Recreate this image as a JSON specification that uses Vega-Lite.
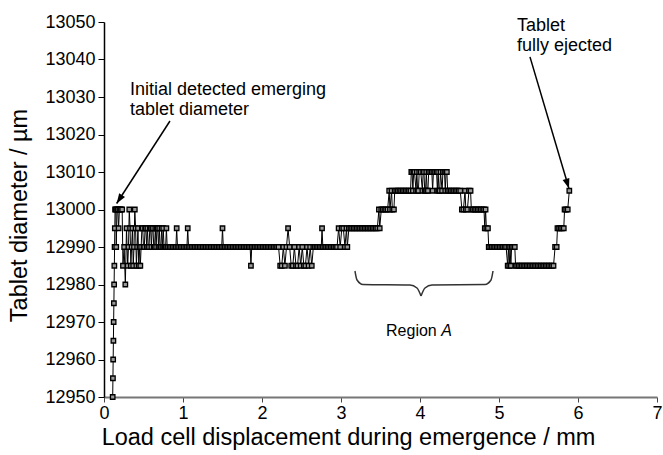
{
"$schema":"https://vega.github.io/schema/vega-lite/v6.json",
"width":553,"height":375,
"autosize":{"type":"none"},
"padding":{"left":104,"top":22,"right":6,"bottom":58},
"background":"white",
"config":{"view":{"stroke":null},"font":"Liberation Sans"},
"datasets":{
"series":[
{"mm":0.110,"um":12950},{"mm":0.113,"um":12955},{"mm":0.116,"um":12960},{"mm":0.119,"um":12965},{"mm":0.122,"um":12970},{"mm":0.125,"um":12975},{"mm":0.128,"um":12980},{"mm":0.131,"um":12985},{"mm":0.134,"um":12990},{"mm":0.137,"um":12995},{"mm":0.140,"um":13000},
{"mm":0.150,"um":13000},{"mm":0.155,"um":12990},{"mm":0.165,"um":13000},{"mm":0.175,"um":13000},{"mm":0.185,"um":12995},{"mm":0.195,"um":13000},{"mm":0.205,"um":13000},{"mm":0.215,"um":13000},{"mm":0.230,"um":13000},{"mm":0.240,"um":12985},{"mm":0.255,"um":12990},{"mm":0.270,"um":12980},{"mm":0.285,"um":12995},{"mm":0.300,"um":12985},{"mm":0.310,"um":12990},{"mm":0.320,"um":13000},{"mm":0.330,"um":12995},{"mm":0.340,"um":12985},{"mm":0.350,"um":12990},{"mm":0.360,"um":12995},{"mm":0.370,"um":12985},{"mm":0.380,"um":12990},{"mm":0.390,"um":13000},{"mm":0.400,"um":12995},{"mm":0.410,"um":12985},{"mm":0.420,"um":12990},{"mm":0.430,"um":12995},{"mm":0.440,"um":12985},{"mm":0.450,"um":12990},{"mm":0.460,"um":12985},{"mm":0.470,"um":12990},
{"mm":0.480,"um":12995},{"mm":0.490,"um":12995},{"mm":0.500,"um":12990},{"mm":0.510,"um":12990},{"mm":0.520,"um":12995},{"mm":0.530,"um":12995},{"mm":0.540,"um":12990},{"mm":0.550,"um":12995},{"mm":0.560,"um":12990},{"mm":0.570,"um":12990},{"mm":0.580,"um":12995},{"mm":0.590,"um":12995},{"mm":0.600,"um":12990},{"mm":0.610,"um":12995},{"mm":0.620,"um":12995},{"mm":0.630,"um":12990},{"mm":0.640,"um":12990},{"mm":0.650,"um":12995},{"mm":0.660,"um":12990},{"mm":0.670,"um":12995},{"mm":0.680,"um":12995},{"mm":0.690,"um":12990},{"mm":0.700,"um":12995},{"mm":0.710,"um":12990},{"mm":0.720,"um":12990},{"mm":0.730,"um":12995},{"mm":0.740,"um":12990},{"mm":0.750,"um":12995},{"mm":0.760,"um":12990},{"mm":0.770,"um":12990},{"mm":0.780,"um":12990},{"mm":0.790,"um":12995},{"mm":0.800,"um":12990},{"mm":0.810,"um":12990},
{"mm":0.83,"um":12990},{"mm":0.85,"um":12990},{"mm":0.87,"um":12990},{"mm":0.89,"um":12990},{"mm":0.91,"um":12990},{"mm":0.92,"um":12995},{"mm":0.93,"um":12990},{"mm":0.95,"um":12990},{"mm":0.97,"um":12990},{"mm":0.99,"um":12990},{"mm":1.01,"um":12990},{"mm":1.03,"um":12990},{"mm":1.05,"um":12990},{"mm":1.06,"um":12995},
{"mm":1.07,"um":12990},{"mm":1.09,"um":12990},{"mm":1.11,"um":12990},{"mm":1.13,"um":12990},{"mm":1.15,"um":12990},{"mm":1.17,"um":12990},{"mm":1.19,"um":12990},{"mm":1.21,"um":12990},{"mm":1.23,"um":12990},{"mm":1.25,"um":12990},{"mm":1.27,"um":12990},{"mm":1.29,"um":12990},{"mm":1.31,"um":12990},{"mm":1.33,"um":12990},{"mm":1.35,"um":12990},{"mm":1.37,"um":12990},{"mm":1.39,"um":12990},{"mm":1.41,"um":12990},{"mm":1.43,"um":12990},{"mm":1.45,"um":12990},{"mm":1.47,"um":12990},{"mm":1.49,"um":12990},{"mm":1.50,"um":12995},
{"mm":1.51,"um":12990},{"mm":1.53,"um":12990},{"mm":1.55,"um":12990},{"mm":1.57,"um":12990},{"mm":1.59,"um":12990},{"mm":1.61,"um":12990},{"mm":1.63,"um":12990},{"mm":1.65,"um":12990},{"mm":1.67,"um":12990},{"mm":1.69,"um":12990},{"mm":1.71,"um":12990},{"mm":1.73,"um":12990},{"mm":1.75,"um":12990},{"mm":1.77,"um":12990},{"mm":1.79,"um":12990},{"mm":1.81,"um":12990},{"mm":1.83,"um":12990},{"mm":1.85,"um":12990},{"mm":1.86,"um":12985},
{"mm":1.87,"um":12990},{"mm":1.89,"um":12990},{"mm":1.91,"um":12990},{"mm":1.93,"um":12990},{"mm":1.95,"um":12990},{"mm":1.97,"um":12990},{"mm":1.99,"um":12990},{"mm":2.01,"um":12990},{"mm":2.03,"um":12990},{"mm":2.05,"um":12990},{"mm":2.07,"um":12990},{"mm":2.09,"um":12990},{"mm":2.11,"um":12990},{"mm":2.13,"um":12990},{"mm":2.15,"um":12990},{"mm":2.17,"um":12990},{"mm":2.19,"um":12990},{"mm":2.21,"um":12990},
{"mm":2.23,"um":12985},{"mm":2.25,"um":12985},{"mm":2.27,"um":12990},{"mm":2.29,"um":12985},{"mm":2.31,"um":12990},{"mm":2.33,"um":12995},{"mm":2.35,"um":12990},{"mm":2.37,"um":12985},{"mm":2.39,"um":12985},{"mm":2.41,"um":12990},{"mm":2.43,"um":12985},{"mm":2.45,"um":12985},{"mm":2.47,"um":12990},{"mm":2.49,"um":12985},{"mm":2.51,"um":12990},{"mm":2.53,"um":12985},{"mm":2.55,"um":12985},{"mm":2.57,"um":12990},{"mm":2.59,"um":12985},{"mm":2.61,"um":12990},{"mm":2.63,"um":12985},{"mm":2.65,"um":12990},
{"mm":2.67,"um":12990},{"mm":2.69,"um":12990},{"mm":2.71,"um":12990},{"mm":2.73,"um":12990},{"mm":2.75,"um":12990},{"mm":2.76,"um":12995},{"mm":2.77,"um":12990},{"mm":2.79,"um":12990},{"mm":2.81,"um":12990},{"mm":2.83,"um":12990},{"mm":2.85,"um":12990},{"mm":2.87,"um":12990},{"mm":2.89,"um":12990},{"mm":2.91,"um":12990},{"mm":2.93,"um":12990},
{"mm":2.95,"um":12990},{"mm":2.97,"um":12995},{"mm":2.99,"um":12990},{"mm":3.01,"um":12995},{"mm":3.03,"um":12995},{"mm":3.05,"um":12990},{"mm":3.07,"um":12995},{"mm":3.08,"um":12990},{"mm":3.10,"um":12995},
{"mm":3.12,"um":12995},{"mm":3.14,"um":12995},{"mm":3.16,"um":12995},{"mm":3.18,"um":12995},{"mm":3.20,"um":12995},{"mm":3.22,"um":12995},{"mm":3.24,"um":12995},{"mm":3.26,"um":12995},{"mm":3.28,"um":12995},{"mm":3.30,"um":12995},{"mm":3.32,"um":12995},{"mm":3.34,"um":12995},{"mm":3.36,"um":12995},{"mm":3.38,"um":12995},{"mm":3.40,"um":12995},{"mm":3.42,"um":12995},{"mm":3.44,"um":12995},{"mm":3.46,"um":12995},
{"mm":3.48,"um":13000},{"mm":3.49,"um":12995},{"mm":3.51,"um":13000},{"mm":3.53,"um":13000},{"mm":3.55,"um":13000},{"mm":3.57,"um":13000},{"mm":3.59,"um":13000},{"mm":3.61,"um":13005},{"mm":3.62,"um":13000},{"mm":3.64,"um":13005},{"mm":3.65,"um":13000},{"mm":3.67,"um":13000},{"mm":3.68,"um":13005},
{"mm":3.70,"um":13005},{"mm":3.72,"um":13005},{"mm":3.74,"um":13005},{"mm":3.76,"um":13005},{"mm":3.78,"um":13005},{"mm":3.80,"um":13005},{"mm":3.82,"um":13005},{"mm":3.84,"um":13005},{"mm":3.86,"um":13005},{"mm":3.88,"um":13005},
{"mm":3.89,"um":13010},{"mm":3.90,"um":13010},{"mm":3.91,"um":13005},{"mm":3.92,"um":13010},{"mm":3.93,"um":13010},{"mm":3.95,"um":13005},{"mm":3.96,"um":13010},{"mm":3.97,"um":13005},{"mm":3.98,"um":13005},{"mm":3.99,"um":13010},{"mm":4.01,"um":13010},{"mm":4.03,"um":13005},{"mm":4.04,"um":13010},{"mm":4.05,"um":13010},{"mm":4.06,"um":13005},{"mm":4.07,"um":13005},{"mm":4.08,"um":13010},{"mm":4.09,"um":13005},{"mm":4.10,"um":13005},{"mm":4.11,"um":13010},{"mm":4.13,"um":13010},{"mm":4.15,"um":13010},{"mm":4.16,"um":13005},{"mm":4.17,"um":13010},{"mm":4.19,"um":13010},{"mm":4.21,"um":13010},{"mm":4.22,"um":13005},{"mm":4.23,"um":13010},{"mm":4.24,"um":13005},{"mm":4.25,"um":13005},{"mm":4.26,"um":13010},{"mm":4.28,"um":13005},{"mm":4.29,"um":13010},{"mm":4.31,"um":13010},{"mm":4.32,"um":13005},{"mm":4.33,"um":13010},{"mm":4.34,"um":13010},{"mm":4.35,"um":13005},
{"mm":4.37,"um":13005},{"mm":4.39,"um":13005},{"mm":4.41,"um":13005},{"mm":4.43,"um":13005},{"mm":4.45,"um":13005},{"mm":4.47,"um":13005},{"mm":4.49,"um":13005},{"mm":4.51,"um":13005},
{"mm":4.53,"um":13000},{"mm":4.55,"um":13000},{"mm":4.57,"um":13005},{"mm":4.58,"um":13000},{"mm":4.60,"um":13000},{"mm":4.62,"um":13005},{"mm":4.64,"um":13005},{"mm":4.65,"um":13000},
{"mm":4.67,"um":13000},{"mm":4.69,"um":13000},{"mm":4.71,"um":13000},{"mm":4.73,"um":13000},{"mm":4.75,"um":13000},{"mm":4.77,"um":13000},{"mm":4.79,"um":13000},{"mm":4.81,"um":13000},
{"mm":4.82,"um":12995},{"mm":4.83,"um":13000},{"mm":4.84,"um":12995},{"mm":4.86,"um":12995},{"mm":4.87,"um":12990},
{"mm":4.89,"um":12990},{"mm":4.91,"um":12990},{"mm":4.93,"um":12990},{"mm":4.95,"um":12990},{"mm":4.97,"um":12990},{"mm":4.99,"um":12990},{"mm":5.01,"um":12990},{"mm":5.03,"um":12990},{"mm":5.05,"um":12990},{"mm":5.07,"um":12990},{"mm":5.09,"um":12990},
{"mm":5.11,"um":12985},{"mm":5.12,"um":12990},{"mm":5.13,"um":12985},{"mm":5.14,"um":12990},{"mm":5.15,"um":12985},{"mm":5.16,"um":12990},{"mm":5.18,"um":12990},{"mm":5.20,"um":12990},{"mm":5.21,"um":12985},
{"mm":5.23,"um":12985},{"mm":5.25,"um":12985},{"mm":5.27,"um":12985},{"mm":5.29,"um":12985},{"mm":5.31,"um":12985},{"mm":5.33,"um":12985},{"mm":5.35,"um":12985},{"mm":5.37,"um":12985},{"mm":5.39,"um":12985},{"mm":5.41,"um":12985},{"mm":5.43,"um":12985},{"mm":5.45,"um":12985},{"mm":5.47,"um":12985},{"mm":5.49,"um":12985},{"mm":5.51,"um":12985},{"mm":5.53,"um":12985},{"mm":5.55,"um":12985},{"mm":5.57,"um":12985},{"mm":5.59,"um":12985},{"mm":5.61,"um":12985},{"mm":5.63,"um":12985},{"mm":5.65,"um":12985},{"mm":5.67,"um":12985},{"mm":5.69,"um":12985},
{"mm":5.71,"um":12990},{"mm":5.73,"um":12990},{"mm":5.74,"um":12995},{"mm":5.76,"um":12995},{"mm":5.78,"um":12995},{"mm":5.80,"um":12995},{"mm":5.82,"um":12995},{"mm":5.83,"um":13000},{"mm":5.85,"um":13000},{"mm":5.87,"um":13000},{"mm":5.89,"um":13005}
],
"arrows":[
{"arrow":"a1","mm":0.835,"um":13023.6},{"arrow":"a1","mm":0.160,"um":13001.6},
{"arrow":"a2","mm":5.392,"um":13040.7},{"arrow":"a2","mm":5.886,"um":13005.6}
],
"head1":[{"mm":0.160,"um":13001.6}],
"head2":[{"mm":5.886,"um":13005.6}],
"brace":[
{"side":"L","mm":3.177,"um":12983.6},{"side":"L","mm":3.203,"um":12981.2},{"side":"L","mm":3.278,"um":12980.0},{"side":"L","mm":3.873,"um":12979.87},{"side":"L","mm":3.962,"um":12979.07},{"side":"L","mm":4.013,"um":12976.93},
{"side":"R","mm":4.013,"um":12976.93},{"side":"R","mm":4.063,"um":12979.07},{"side":"R","mm":4.152,"um":12979.87},{"side":"R","mm":4.823,"um":12980.0},{"side":"R","mm":4.899,"um":12981.2},{"side":"R","mm":4.924,"um":12983.6}
],
"notes":[
{"label":"Initial detected emerging","mm":0.329,"um":13030.5},
{"label":"tablet diameter","mm":0.329,"um":13025.2},
{"label":"Tablet","mm":5.228,"um":13047.6},
{"label":"fully ejected","mm":5.228,"um":13042.3}
],
"region":[{"label":"Region","mm":3.570,"um":12966.3}],
"italic":[{"label":"A","mm":4.27,"um":12966.3}]
},
"encoding":{
"x":{"field":"mm","type":"quantitative","scale":{"domain":[0,7],"nice":false,"zero":false},
"axis":{"values":[0,1,2,3,4,5,6,7],"format":"d","title":"Load cell displacement during emergence / mm","titleFontSize":23.5,"titleFontWeight":"normal","titleColor":"black","titleX":244,"titleY":47,"titleAlign":"center","titleBaseline":"alphabetic","labelFontSize":18,"labelColor":"black","labelPadding":2,"labelFlush":false,"labelOverlap":false,"tickSize":5,"tickColor":"#444","domainColor":"#777","domainWidth":2,"grid":false}},
"y":{"field":"um","type":"quantitative","scale":{"domain":[12950,13050],"nice":false,"zero":false},
"axis":{"values":[12950,12960,12970,12980,12990,13000,13010,13020,13030,13040,13050],"format":"d","title":"Tablet diameter / µm","titleFontSize":23.5,"titleFontWeight":"normal","titleColor":"black","titleX":-78,"titleY":193,"titleAngle":-90,"titleAlign":"center","titleBaseline":"alphabetic","labelFontSize":18,"labelColor":"black","labelPadding":3,"labelFlush":false,"labelOverlap":false,"tickSize":6,"tickColor":"black","domainColor":"black","domainWidth":1.5,"grid":false}}
},
"layer":[
{"data":{"name":"series"},"mark":{"type":"line","color":"black","strokeWidth":1},"encoding":{}},
{"data":{"name":"series"},"mark":{"type":"point","shape":"square","size":20,"filled":true,"fill":"#9a9a9a","stroke":"black","strokeWidth":1.3,"opacity":1},"encoding":{}},
{"data":{"name":"arrows"},"mark":{"type":"line","color":"black","strokeWidth":1.5},"encoding":{"detail":{"field":"arrow"}}},
{"data":{"name":"head1"},"mark":{"type":"point","shape":"M0,0L-0.35,1L0.35,1Z","size":400,"angle":213,"filled":true,"color":"black","opacity":1},"encoding":{}},
{"data":{"name":"head2"},"mark":{"type":"point","shape":"M0,0L-0.35,1L0.35,1Z","size":400,"angle":162.5,"filled":true,"color":"black","opacity":1},"encoding":{}},
{"data":{"name":"brace"},"mark":{"type":"line","interpolate":"monotone","color":"#333","strokeWidth":1.5},"encoding":{"detail":{"field":"side"}}},
{"data":{"name":"notes"},"mark":{"type":"text","align":"left","baseline":"alphabetic","fontSize":18,"color":"black"},"encoding":{"text":{"field":"label"}}},
{"data":{"name":"region"},"mark":{"type":"text","align":"left","baseline":"alphabetic","fontSize":16,"color":"black"},"encoding":{"text":{"field":"label"}}},
{"data":{"name":"italic"},"mark":{"type":"text","align":"left","baseline":"alphabetic","fontSize":16,"fontStyle":"italic","color":"black"},"encoding":{"text":{"field":"label"}}}
]
}
